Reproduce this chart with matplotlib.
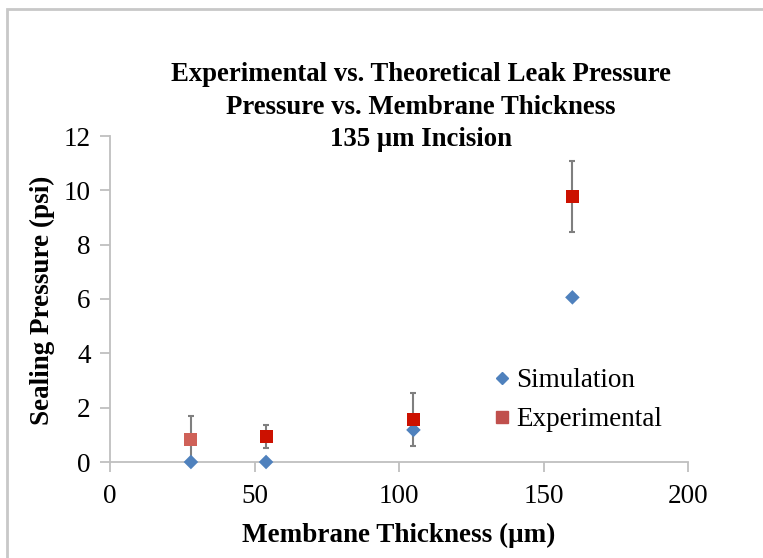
import matplotlib
matplotlib.use("Agg")
import matplotlib.pyplot as plt
from matplotlib.patches import Rectangle
from matplotlib.lines import Line2D

thickness = [28, 54, 105, 160]
simulation = [0.0, 0.0, 1.18, 6.06]
experimental = [0.82, 0.95, 1.56, 9.77]
exp_error = [0.86, 0.42, 0.97, 1.3]

xticks = [0, 50, 100, 150, 200]
yticks = [0, 2, 4, 6, 8, 10, 12]

plt.rcParams['font.family'] = ['Liberation Serif', 'DejaVu Serif']

W, H = 763, 558
fig = plt.figure(figsize=(W / 100, H / 100), dpi=100)
fig.patches.append(Rectangle((7 / W, -0.1), 1.2, (H - 9) / H + 0.1, transform=fig.transFigure,
                             fill=False, edgecolor='#c8c8c8', linewidth=2))

x0, x1, y0, y1 = 110, 688, 462, 136
ax = fig.add_axes([x0 / W, 1 - y0 / H, (x1 - x0) / W, (y0 - y1) / H])
ax.set_xlim(0, 200)
ax.set_ylim(0, 12)
ax.set_xticks(xticks)
ax.set_yticks(yticks)
for s in ['top', 'right']:
    ax.spines[s].set_visible(False)
for s in ['left', 'bottom']:
    ax.spines[s].set_color('#bfbfbf')
    ax.spines[s].set_linewidth(1.3)
ax.tick_params(axis='both', direction='out', length=7, width=1.3, color='#bfbfbf',
               labelsize=19.5)
ax.tick_params(axis='y', pad=7)
ax.tick_params(axis='x', pad=9)

ax.errorbar(thickness, experimental, yerr=exp_error, fmt='none', ecolor='#7f7f7f',
            elinewidth=1.5, capsize=2.5, capthick=1.5, zorder=2)
ax.scatter(thickness, simulation, marker='D', s=55, color='#4f81bd', zorder=3, clip_on=False,
           edgecolors='none')
colors = ['#cf6158'] + ['#cc1100'] * (len(thickness) - 1)
ax.scatter(thickness, experimental, marker='s', s=88, c=colors, zorder=4, edgecolors='none')

handles = [Line2D([], [], marker='D', color='#4f81bd', linestyle='none', markersize=6),
           Line2D([], [], marker='s', color='#c0504d', linestyle='none', markersize=9)]
ax.legend(handles, ['Simulation', 'Experimental'], loc='upper left',
          bbox_to_anchor=((488 - x0) / (x1 - x0), (y0 - 368) / (y0 - y1)),
          frameon=False, fontsize=19.5, handletextpad=0.05, labelspacing=0.52,
          handlelength=1.0, borderpad=0, borderaxespad=0)

ax.set_xlabel('Membrane Thickness (μm)', fontsize=19.5, fontweight='bold', va='center')
ax.set_ylabel('Sealing Pressure (psi)', fontsize=19.5, fontweight='bold', va='center')
ax.xaxis.set_label_coords((399 - x0) / (x1 - x0), (y0 - 535) / (y0 - y1))
ax.yaxis.set_label_coords((42 - x0) / (x1 - x0), (y0 - 300) / (y0 - y1))

fig.text(421 / W, 1 - 107 / H,
         'Experimental vs. Theoretical Leak Pressure\nPressure vs. Membrane Thickness\n135 μm Incision',
         ha='center', va='center', fontsize=19.3, fontweight='bold', linespacing=1.38)

fig.savefig('out.png', dpi=100)
